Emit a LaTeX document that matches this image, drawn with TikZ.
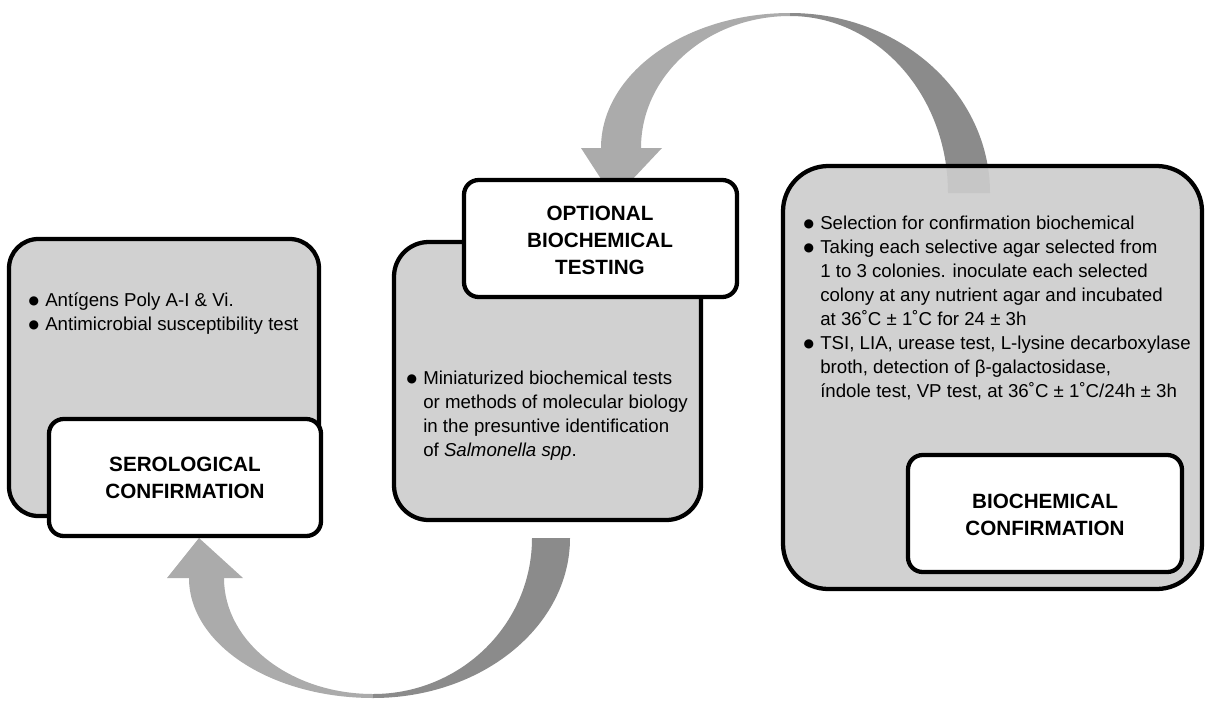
\documentclass[tikz,border=0pt]{standalone}
\usepackage{fontspec}
\setmainfont{Liberation Sans}
\newfontfamily\symfont{DejaVu Sans}
\definecolor{boxgray}{RGB}{204,204,204}
\definecolor{arrlight}{RGB}{171,171,171}
\definecolor{arrdark}{RGB}{139,139,139}
\newcommand{\bul}{\makebox[12pt][l]{\hspace{-0.5pt}\raisebox{1.1pt}{\symfont\fontsize{9}{9}\selectfont ●}}}
\begin{document}
\begin{tikzpicture}[x=0.75pt,y=-0.75pt,
  graybox/.style={draw=black,line width=3.2pt,fill=boxgray,fill opacity=0.91},
  whitebox/.style={draw=black,line width=3.2pt,fill=white,rounded corners=11pt},
  bodytext/.style={anchor=north west,inner sep=0pt,font=\fontsize{14}{18}\selectfont},
  titletext/.style={anchor=north,inner sep=0pt,font=\fontsize{15.5}{20}\selectfont\bfseries}]
\useasboundingbox (0,0) rectangle (1206,700);
% top arrow
\begin{scope}
\clip (601,148) arc[start angle=180,end angle=270,x radius=189,y radius=135]
  arc[start angle=270,end angle=360,x radius=200,y radius=180] -- (948,193)
  arc[start angle=0,end angle=-90,x radius=158,y radius=177]
  arc[start angle=-90,end angle=-180,x radius=149,y radius=132] -- cycle;
\fill[arrlight] (0,0) rectangle (790,700);
\fill[arrdark] (790,0) rectangle (1206,700);
\end{scope}
\fill[arrlight] (581,148) -- (662,148) -- (614,199) -- cycle;
% bottom arrow
\begin{scope}
\clip (189,578) arc[start angle=180,end angle=90,x radius=184,y radius=120]
  arc[start angle=90,end angle=0,x radius=197,y radius=160] -- (532,538)
  arc[start angle=0,end angle=90,x radius=159,y radius=156]
  arc[start angle=90,end angle=180,x radius=149,y radius=116] -- cycle;
\fill[arrlight] (0,0) rectangle (373,700);
\fill[arrdark] (373,0) rectangle (1206,700);
\end{scope}
\fill[arrlight] (167,578) -- (243,578) -- (199,538) -- cycle;
% boxes
\draw[graybox,rounded corners=22pt] (9,239) rectangle (319,516);
\draw[whitebox] (49,419) rectangle (321,536);
\draw[graybox,rounded corners=26pt] (394,242) rectangle (701,520);
\draw[whitebox] (464,180) rectangle (737,297);
\draw[graybox,rounded corners=34pt] (783,166) rectangle (1202,589);
\draw[whitebox] (908,455) rectangle (1182,572);
% texts
\node[bodytext] (t1) at (29,289) {\begin{tabular}{@{}l@{}l@{}}\bul&Antígens Poly A-I \& Vi.\\ \bul&Antimicrobial susceptibility test\end{tabular}};
\node[titletext] (h1) at (185,453) {\begin{tabular}{@{}c@{}}SEROLOGICAL\\CONFIRMATION\end{tabular}};
\node[bodytext] (t2) at (407,367) {\begin{tabular}{@{}l@{}l@{}}\bul&Miniaturized biochemical tests\\ &or methods of molecular biology\\ &in the presuntive identification\\ &of \textit{Salmonella spp}.\end{tabular}};
\node[titletext] (h2) at (600,202) {\begin{tabular}{@{}c@{}}OPTIONAL\\BIOCHEMICAL\\TESTING\end{tabular}};
\node[bodytext] (t3) at (804,212) {\begin{tabular}{@{}l@{}l@{}}\bul&Selection for confirmation biochemical\\ \bul&Taking each selective agar selected from\\ &1 to 3 colonies. inoculate each selected\\ &colony at any nutrient agar and incubated\\ &at 36˚C ± 1˚C for 24 ± 3h\\ \bul&TSI, LIA, urease test, L-lysine decarboxylase\\ &broth, detection of β-galactosidase,\\ &índole test, VP test, at 36˚C ± 1˚C/24h ± 3h\end{tabular}};
\node[titletext] (h3) at (1045,490) {\begin{tabular}{@{}c@{}}BIOCHEMICAL\\CONFIRMATION\end{tabular}};
\end{tikzpicture}
\end{document}
